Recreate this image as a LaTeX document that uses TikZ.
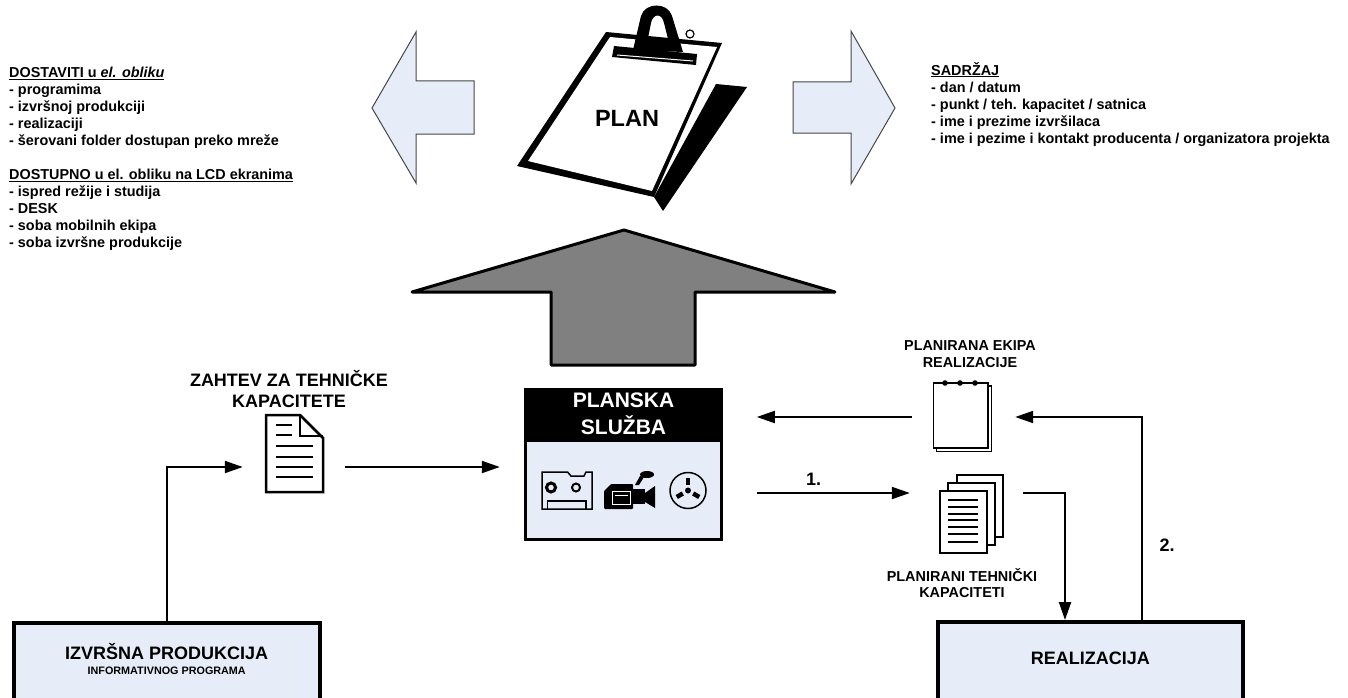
\documentclass[tikz,border=0pt]{standalone}
\usepackage{fontspec}
\setmainfont{Liberation Sans}
\usetikzlibrary{positioning,arrows.meta}
\definecolor{svetloplava}{RGB}{230,237,248}
\definecolor{siva}{RGB}{128,128,128}
\definecolor{tamnosiva}{RGB}{70,70,70}

\begin{document}
\begin{tikzpicture}[x=1pt, y=-1pt,
    tok/.style={-{Triangle[length=18pt,width=12pt]}, line width=2pt},
    blok/.style={draw, line width=4pt, fill=svetloplava},
    oznaka/.style={font=\fontsize{14.4}{15.5}\selectfont\bfseries, align=center, inner sep=0pt},
    spisak/.style={font=\fontsize{14.4}{17}\selectfont\bfseries, align=left, inner sep=0pt, anchor=north west},
    strelica/.style={draw=tamnosiva, line width=1pt, fill=svetloplava, line join=miter},
    papir/.style={draw, line width=2.5pt, fill=white},
    broj/.style={font=\fontsize{18}{20}\selectfont\bfseries, inner sep=0pt}
]
    \useasboundingbox (0,0) rectangle (1348,698);

    \node[spisak] (dostava) at (9,67) {\underline{DOSTAVITI u \textit{el. obliku}}\\
        - programima\\
        - izvršnoj produkciji\\
        - realizaciji\\
        - šerovani folder dostupan preko mreže\\[17pt]
        \underline{DOSTUPNO u el. obliku na LCD ekranima}\\
        - ispred režije i studija\\
        - DESK\\
        - soba mobilnih ekipa\\
        - soba izvršne produkcije};
    \node[spisak] (sadrzaj) at (931,62) {\underline{SADRŽAJ}\\
        - dan / datum\\
        - punkt / teh. kapacitet / satnica\\
        - ime i prezime izvršilaca\\
        - ime i pezime i kontakt producenta / organizatora projekta};

    \draw[strelica] (372,108) -- (416,32) -- (416,81) -- (474,81) -- (474,134) -- (416,134) -- (416,183) -- cycle;
    \draw[strelica] (895,108) -- (851,31) -- (851,82) -- (793,82) -- (793,133) -- (851,133) -- (851,184) -- cycle;

    % plan
    \fill (716,84) -- (747,87) -- (663,211) -- (654,197) -- cycle;
    \fill (606,32) -- (722,43) -- (654,197) -- (517,166) -- cycle;
    \fill[white] (610,37) -- (717,47) -- (652,191) -- (528,161) -- cycle;
    \fill[even odd rule] (633,50) -- (641,16) .. controls (645,2) and (668,2) .. (672,16) -- (683,52) -- cycle
        (648,38) -- (651,23) .. controls (653,13) and (662,13) .. (664,23) -- (668,39) -- cycle;
    \draw[line width=1.2pt] (690,34) circle (4pt);
    \fill (614,46) -- (697,54) -- (696,65) -- (612,57) -- cycle;
    \draw[white, line width=1pt] (617,55) -- (693,61);
    \node[font=\fontsize{23.5}{28}\selectfont\bfseries] (plan) at (627,118) {PLAN};

    \draw[fill=siva, line width=3pt, line join=round] (624,230) -- (835,292) -- (695,292) -- (695,365) -- (551,365) -- (551,292) -- (412,292) -- cycle;

    % planska sluzba
    \node[blok, line width=3pt, minimum width=196pt, minimum height=150pt] (planska) at (623.3,464.6) {};
    \fill (planska.north west) rectangle ([yshift=-54pt]planska.north east);
    \node[font=\fontsize{21}{27}\selectfont\bfseries, text=white, align=center] at (623.5,414) {PLANSKA\\SLUŽBA};
    \draw[line width=1.5pt, line join=miter] (542,472) -- (567.5,472) -- (571,476) -- (584,476) -- (586,472) -- (592,472) -- (592,509) -- (542,509) -- cycle;
    \draw[line width=1.5pt] (547.5,509) -- (547.5,501) -- (586,501) -- (586,509);
    \draw[line width=3pt] (551,487.5) circle (4.5pt);
    \draw[line width=2pt] (576,487.5) circle (4pt);
    \fill[rounded corners=1pt] (604,509) -- (604,491) -- (611,484) -- (633,484) -- (633,509) -- cycle;
    \draw[white, line width=1pt] (612.5,491) rectangle (630.5,504);
    \draw[white, line width=1pt] (615,495) -- (628,495);
    \fill (633,489) rectangle (645,504);
    \fill (645,493) -- (655,486) -- (655,508) -- (645,502) -- cycle;
    \fill (635,485) -- (640,476) -- (644,477) -- (639,485) -- cycle;
    \fill (647,474.5) ellipse (7pt and 3.5pt);
    \draw[line width=1.5pt] (688,490.5) circle (18pt);
    \fill (688,490.5) circle (3pt);
    \foreach \a in {270,30,150}
        \draw[line width=4.5pt, shift={(688,490.5)}] (\a:6) -- (\a:13);

    % zahtev
    \node[minimum width=57pt, minimum height=108pt, inner sep=0pt] (zahtev) at (294.5,467) {};
    \draw[papir, line join=miter] (266,415) -- (300,415) -- (323,438) -- (323,492) -- (266,492) -- cycle;
    \draw[line width=2.5pt] (300,415) -- (300,436) -- (323,436);
    \foreach \y in {425,435}
        \draw[line width=2.5pt] (276,\y) -- (292,\y);
    \foreach \y in {446,457,467,477}
        \draw[line width=2.5pt] (276,\y) -- (313,\y);
    \node[oznaka, font=\fontsize{18}{20.5}\selectfont\bfseries] (zahtevtekst) at (289,389) {ZAHTEV ZA TEHNIČKE\\KAPACITETE};

    % ekipa
    \node[minimum width=59pt, minimum height=74pt, inner sep=0pt] (ekipa) at (962.5,417) {};
    \draw[line width=1.5pt, fill=white] (936.5,386) rectangle (991.5,451.5);
    \draw[line width=1.5pt, fill=white] (933.5,383) rectangle (988,448);
    \foreach \x in {945,960,975}
        \fill (\x,383) circle (2.8pt);
    \node[oznaka, font=\fontsize{14.4}{16.7}\selectfont\bfseries] (ekipatekst) at (970,354) {PLANIRANA EKIPA\\REALIZACIJE};

    % dokumenti
    \node[minimum width=64pt, minimum height=38pt, inner sep=0pt] (dokumenti) at (971,493) {};
    \draw[papir] (957,475) rectangle (1003,537);
    \draw[papir] (948,483) rectangle (995,545);
    \draw[papir] (940,491) rectangle (987,553);
    \foreach \y in {500,507,513.5,520,527,534,541.5}
        \draw[line width=2pt] (948,\y) -- (978,\y);
    \node[oznaka] (dokumentitekst) at (962,583) {PLANIRANI TEHNIČKI\\KAPACITETI};

    \node[blok, minimum width=306pt, minimum height=85pt, align=center, text depth=12.9pt,
        font=\fontsize{18}{14.4}\selectfont\bfseries] (ip) at (166.7,665.2)
        {IZVRŠNA PRODUKCIJA\\\fontsize{10.8}{14.4}\selectfont INFORMATIVNOG PROGRAMA};
    \node[blok, minimum width=305pt, minimum height=85pt, text depth=13pt,
        font=\fontsize{18}{20}\selectfont\bfseries] (realizacija) at (1090.3,664.5) {REALIZACIJA};

    \draw[tok, shorten >=23pt] (ip.north) |- (zahtev);
    \draw[tok, shorten <=22pt, shorten >=24pt] (zahtev) -- (zahtev -| planska.west);
    \draw[tok, shorten <=21pt, shorten >=34pt] (ekipa) -- (ekipa -| planska.east);
    \draw[tok, shorten <=34pt, shorten >=29pt] (dokumenti -| planska.east) -- node[broj, above=6.5pt, pos=0.42] {1.} (dokumenti);
    \draw[tok, shorten <=20pt] (dokumenti) -| ([xshift=-25.3pt]realizacija.north);
    \draw[tok, shorten >=23pt] ([xshift=51.7pt]realizacija.north) |- node[broj, right=16.5pt, pos=0.185] {2.} (ekipa);
\end{tikzpicture}
\end{document}
